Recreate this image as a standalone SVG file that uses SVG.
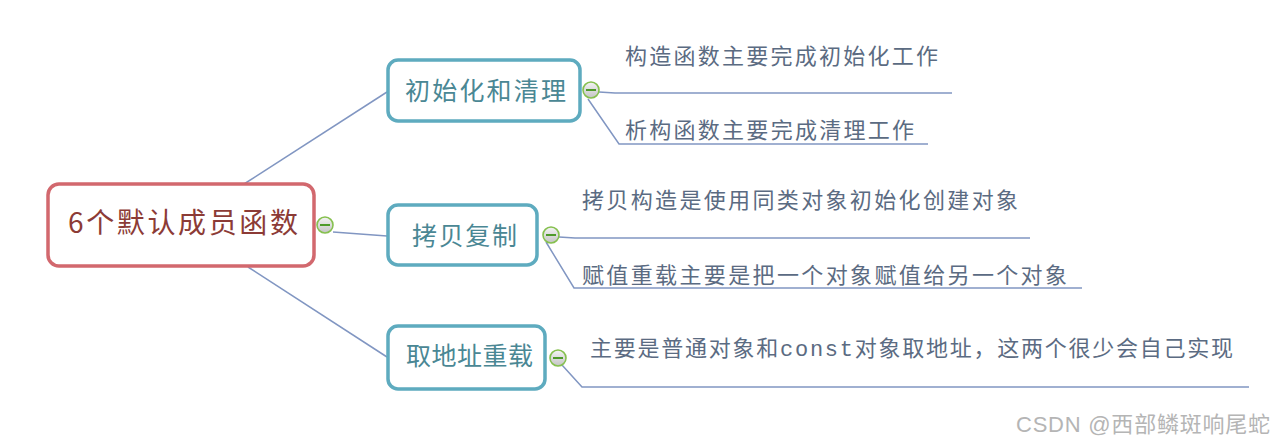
<svg xmlns="http://www.w3.org/2000/svg" width="1281" height="446" viewBox="0 0 1281 446">
<defs>
<linearGradient id="cg" x1="0" y1="0" x2="0" y2="1">
<stop offset="0" stop-color="#f4f4f4"/>
<stop offset="1" stop-color="#c4c4c4"/>
</linearGradient>
<style>
.conn{fill:none;stroke:#8196c2;stroke-width:1.5}
.root{fill:#fff;stroke:#d2686e;stroke-width:3.5}
.box{fill:#fff;stroke:#5eabbf;stroke-width:3.5}
.rt{font-family:"Noto Sans CJK SC","Liberation Sans",sans-serif;font-size:28px;fill:#8c3b36}
.bt{font-family:"Noto Sans CJK SC","Liberation Sans",sans-serif;font-size:25px;fill:#4a8794}
.lt{font-family:"Noto Sans CJK SC","Liberation Sans",sans-serif;font-size:22px;fill:#5b6b82}
.mono{font-family:"Liberation Mono","DejaVu Sans Mono",monospace}
.wm{font-family:"Liberation Sans","Noto Sans CJK SC",sans-serif;font-size:22px;fill:#b5b5b5}
.tog circle{fill:url(#cg);stroke:#86c04f;stroke-width:1.6}
.tog line{stroke:#4e9a2a;stroke-width:2}
</style>
</defs>
<rect width="1281" height="446" fill="#ffffff"/>
<g id="connectors">
<polyline class="conn" points="244,184 387,92"/>
<polyline class="conn" points="333,232 387,236"/>
<polyline class="conn" points="248,267 387,357"/>
<polyline class="conn" points="599,92 615,93 952,93"/>
<polyline class="conn" points="588,99 619,144 928,144"/>
<polyline class="conn" points="559,237 575,238 1030,238"/>
<polyline class="conn" points="546,242 574,288 1082,288"/>
<polyline class="conn" points="562,365 582,387 1249,387"/>
</g>
<g id="root">
<rect class="root" x="48" y="184" width="266" height="82" rx="11"/>
<text class="rt" x="68" y="233" textLength="230" lengthAdjust="spacing">6个默认成员函数</text>
<g class="tog"><circle cx="325" cy="225" r="8"/><line x1="320" y1="225" x2="330" y2="225"/></g>
</g>
<g id="n1">
<rect class="box" x="388" y="60" width="192" height="61" rx="10"/>
<text class="bt" x="405" y="100" textLength="161" lengthAdjust="spacing">初始化和清理</text>
<g class="tog"><circle cx="591" cy="90" r="8"/><line x1="586" y1="90" x2="596" y2="90"/></g>
</g>
<g id="n2">
<rect class="box" x="388" y="205" width="149" height="60" rx="10"/>
<text class="bt" x="412" y="245" textLength="105" lengthAdjust="spacing">拷贝复制</text>
<g class="tog"><circle cx="551" cy="235" r="8"/><line x1="546" y1="235" x2="556" y2="235"/></g>
</g>
<g id="n3">
<rect class="box" x="388" y="326" width="157" height="63" rx="10"/>
<text class="bt" x="406" y="365" textLength="127" lengthAdjust="spacing">取地址重载</text>
<g class="tog"><circle cx="558" cy="358" r="8"/><line x1="553" y1="358" x2="563" y2="358"/></g>
</g>
<g id="l1"><text class="lt" x="625" y="64" textLength="313" lengthAdjust="spacing">构造函数主要完成初始化工作</text></g>
<g id="l2"><text class="lt" x="625" y="138" textLength="289" lengthAdjust="spacing">析构函数主要完成清理工作</text></g>
<g id="l3"><text class="lt" x="582" y="208" textLength="436" lengthAdjust="spacing">拷贝构造是使用同类对象初始化创建对象</text></g>
<g id="l4"><text class="lt" x="582" y="283" textLength="485" lengthAdjust="spacing">赋值重载主要是把一个对象赋值给另一个对象</text></g>
<g id="l5"><text class="lt" x="590" y="356" textLength="643" lengthAdjust="spacing">主要是普通对象和<tspan class="mono">const</tspan>对象取地址，这两个很少会自己实现</text></g>
<text class="wm" x="1016" y="432" textLength="254" lengthAdjust="spacing">CSDN @西部鳞斑响尾蛇</text>
</svg>
